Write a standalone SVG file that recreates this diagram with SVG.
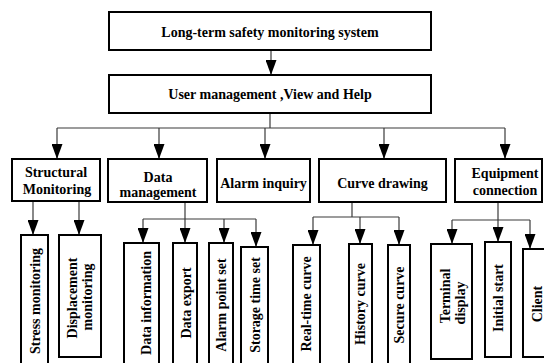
<svg xmlns="http://www.w3.org/2000/svg" width="544" height="363" viewBox="0 0 544 363">
<style>
.box{fill:#fff;stroke:#000;stroke-width:2}
.t{font-family:"Liberation Serif","Times New Roman",serif;font-weight:bold;font-size:14px;fill:#000;text-anchor:middle}
.c{fill:none;stroke:#3a3a3a;stroke-width:1.2}
</style>
<defs>
<marker id="ah" viewBox="0 0 10 10" refX="10" refY="5" markerWidth="15" markerHeight="11" markerUnits="userSpaceOnUse" orient="auto" preserveAspectRatio="none">
<path d="M0,0 L10,5 L0,10 z" fill="#000"/>
</marker>
</defs>
<rect width="544" height="363" fill="#fff"/>
<g id="connectors">
<line class="c" x1="271" y1="50" x2="271" y2="75" marker-end="url(#ah)"/>
<line class="c" x1="270" y1="113" x2="270" y2="128"/>
<line class="c" x1="57" y1="128" x2="505" y2="128"/>
<line class="c" x1="57" y1="128" x2="57" y2="159" marker-end="url(#ah)"/>
<line class="c" x1="159" y1="128" x2="159" y2="159" marker-end="url(#ah)"/>
<line class="c" x1="265" y1="128" x2="265" y2="159" marker-end="url(#ah)"/>
<line class="c" x1="384" y1="128" x2="384" y2="159" marker-end="url(#ah)"/>
<line class="c" x1="505" y1="128" x2="505" y2="159" marker-end="url(#ah)"/>
<line class="c" x1="33" y1="201" x2="33" y2="235" marker-end="url(#ah)"/>
<line class="c" x1="79" y1="201" x2="79" y2="235" marker-end="url(#ah)"/>
<line class="c" x1="185" y1="202" x2="185" y2="219"/>
<line class="c" x1="143" y1="219" x2="256" y2="219"/>
<line class="c" x1="143" y1="219" x2="143" y2="243" marker-end="url(#ah)"/>
<line class="c" x1="185" y1="219" x2="185" y2="243" marker-end="url(#ah)"/>
<line class="c" x1="224" y1="219" x2="224" y2="243" marker-end="url(#ah)"/>
<line class="c" x1="256" y1="219" x2="256" y2="247" marker-end="url(#ah)"/>
<line class="c" x1="352" y1="202" x2="352" y2="217"/>
<line class="c" x1="313" y1="217" x2="399" y2="217"/>
<line class="c" x1="313" y1="217" x2="313" y2="245" marker-end="url(#ah)"/>
<line class="c" x1="360" y1="217" x2="360" y2="244" marker-end="url(#ah)"/>
<line class="c" x1="399" y1="217" x2="399" y2="245" marker-end="url(#ah)"/>
<line class="c" x1="498" y1="202" x2="498" y2="220"/>
<line class="c" x1="452" y1="220" x2="530" y2="220"/>
<line class="c" x1="452" y1="220" x2="452" y2="244" marker-end="url(#ah)"/>
<line class="c" x1="498" y1="220" x2="498" y2="242" marker-end="url(#ah)"/>
<line class="c" x1="530" y1="220" x2="530" y2="249" marker-end="url(#ah)"/>
</g>
<g id="n-root"><rect class="box" x="109" y="12" width="322" height="38"/><text class="t" x="270" y="37">Long-term safety monitoring system</text></g>
<g id="n-user"><rect class="box" x="109" y="75" width="322" height="38"/><text class="t" x="270" y="99">User management ,View and Help</text></g>
<g id="n-struct"><rect class="box" x="12" y="159" width="88" height="42"/><text class="t" x="56" y="177">Structural</text><text class="t" x="57" y="194">Monitoring</text></g>
<g id="n-datam"><rect class="box" x="108" y="159" width="99" height="43"/><text class="t" x="158" y="182">Data</text><text class="t" x="158" y="197">management</text></g>
<g id="n-alarm"><rect class="box" x="217" y="159" width="93" height="43"/><text class="t" x="263.5" y="188">Alarm inquiry</text></g>
<g id="n-curve"><rect class="box" x="319" y="159" width="127" height="43"/><text class="t" x="382.5" y="188">Curve drawing</text></g>
<g id="n-equip"><rect class="box" x="455" y="159" width="87" height="43"/><text class="t" x="505" y="178">Equipment</text><text class="t" x="505" y="195">connection</text></g>
<g id="n-stress"><rect class="box" x="21" y="235" width="27" height="135"/><text class="t" transform="translate(40,301) rotate(-90)">Stress monitoring</text></g>
<g id="n-disp"><rect class="box" x="59" y="235" width="42" height="122"/><text class="t" transform="translate(77,298) rotate(-90)">Displacement</text><text class="t" transform="translate(92,297) rotate(-90)">monitoring</text></g>
<g id="n-datainfo"><rect class="box" x="124" y="243" width="35" height="130"/><text class="t" transform="translate(151,303) rotate(-90)">Data information</text></g>
<g id="n-dataexp"><rect class="box" x="173" y="243" width="24" height="130"/><text class="t" transform="translate(191,303) rotate(-90)">Data export</text></g>
<g id="n-alarmset"><rect class="box" x="209" y="243" width="24" height="130"/><text class="t" transform="translate(226,305) rotate(-90)">Alarm point set</text></g>
<g id="n-storage"><rect class="box" x="241" y="247" width="27" height="126"/><text class="t" transform="translate(260,305) rotate(-90)">Storage time set</text></g>
<g id="n-realtime"><rect class="box" x="293" y="245" width="27" height="128"/><text class="t" transform="translate(311,304) rotate(-90)">Real-time curve</text></g>
<g id="n-history"><rect class="box" x="349" y="244" width="23" height="129"/><text class="t" transform="translate(365,304) rotate(-90)">History  curve</text></g>
<g id="n-secure"><rect class="box" x="388" y="245" width="22" height="128"/><text class="t" transform="translate(404,305) rotate(-90)">Secure  curve</text></g>
<g id="n-terminal"><rect class="box" x="431" y="244" width="41" height="115"/><text class="t" transform="translate(450,296) rotate(-90)">Terminal</text><text class="t" transform="translate(465,303) rotate(-90)">display</text></g>
<g id="n-initial"><rect class="box" x="485" y="242" width="26" height="115"/><text class="t" transform="translate(503,298) rotate(-90)">Initial  start</text></g>
<g id="n-client"><rect class="box" x="523" y="249" width="30" height="108"/><text class="t" transform="translate(542,304) rotate(-90)">Client</text></g>
</svg>
